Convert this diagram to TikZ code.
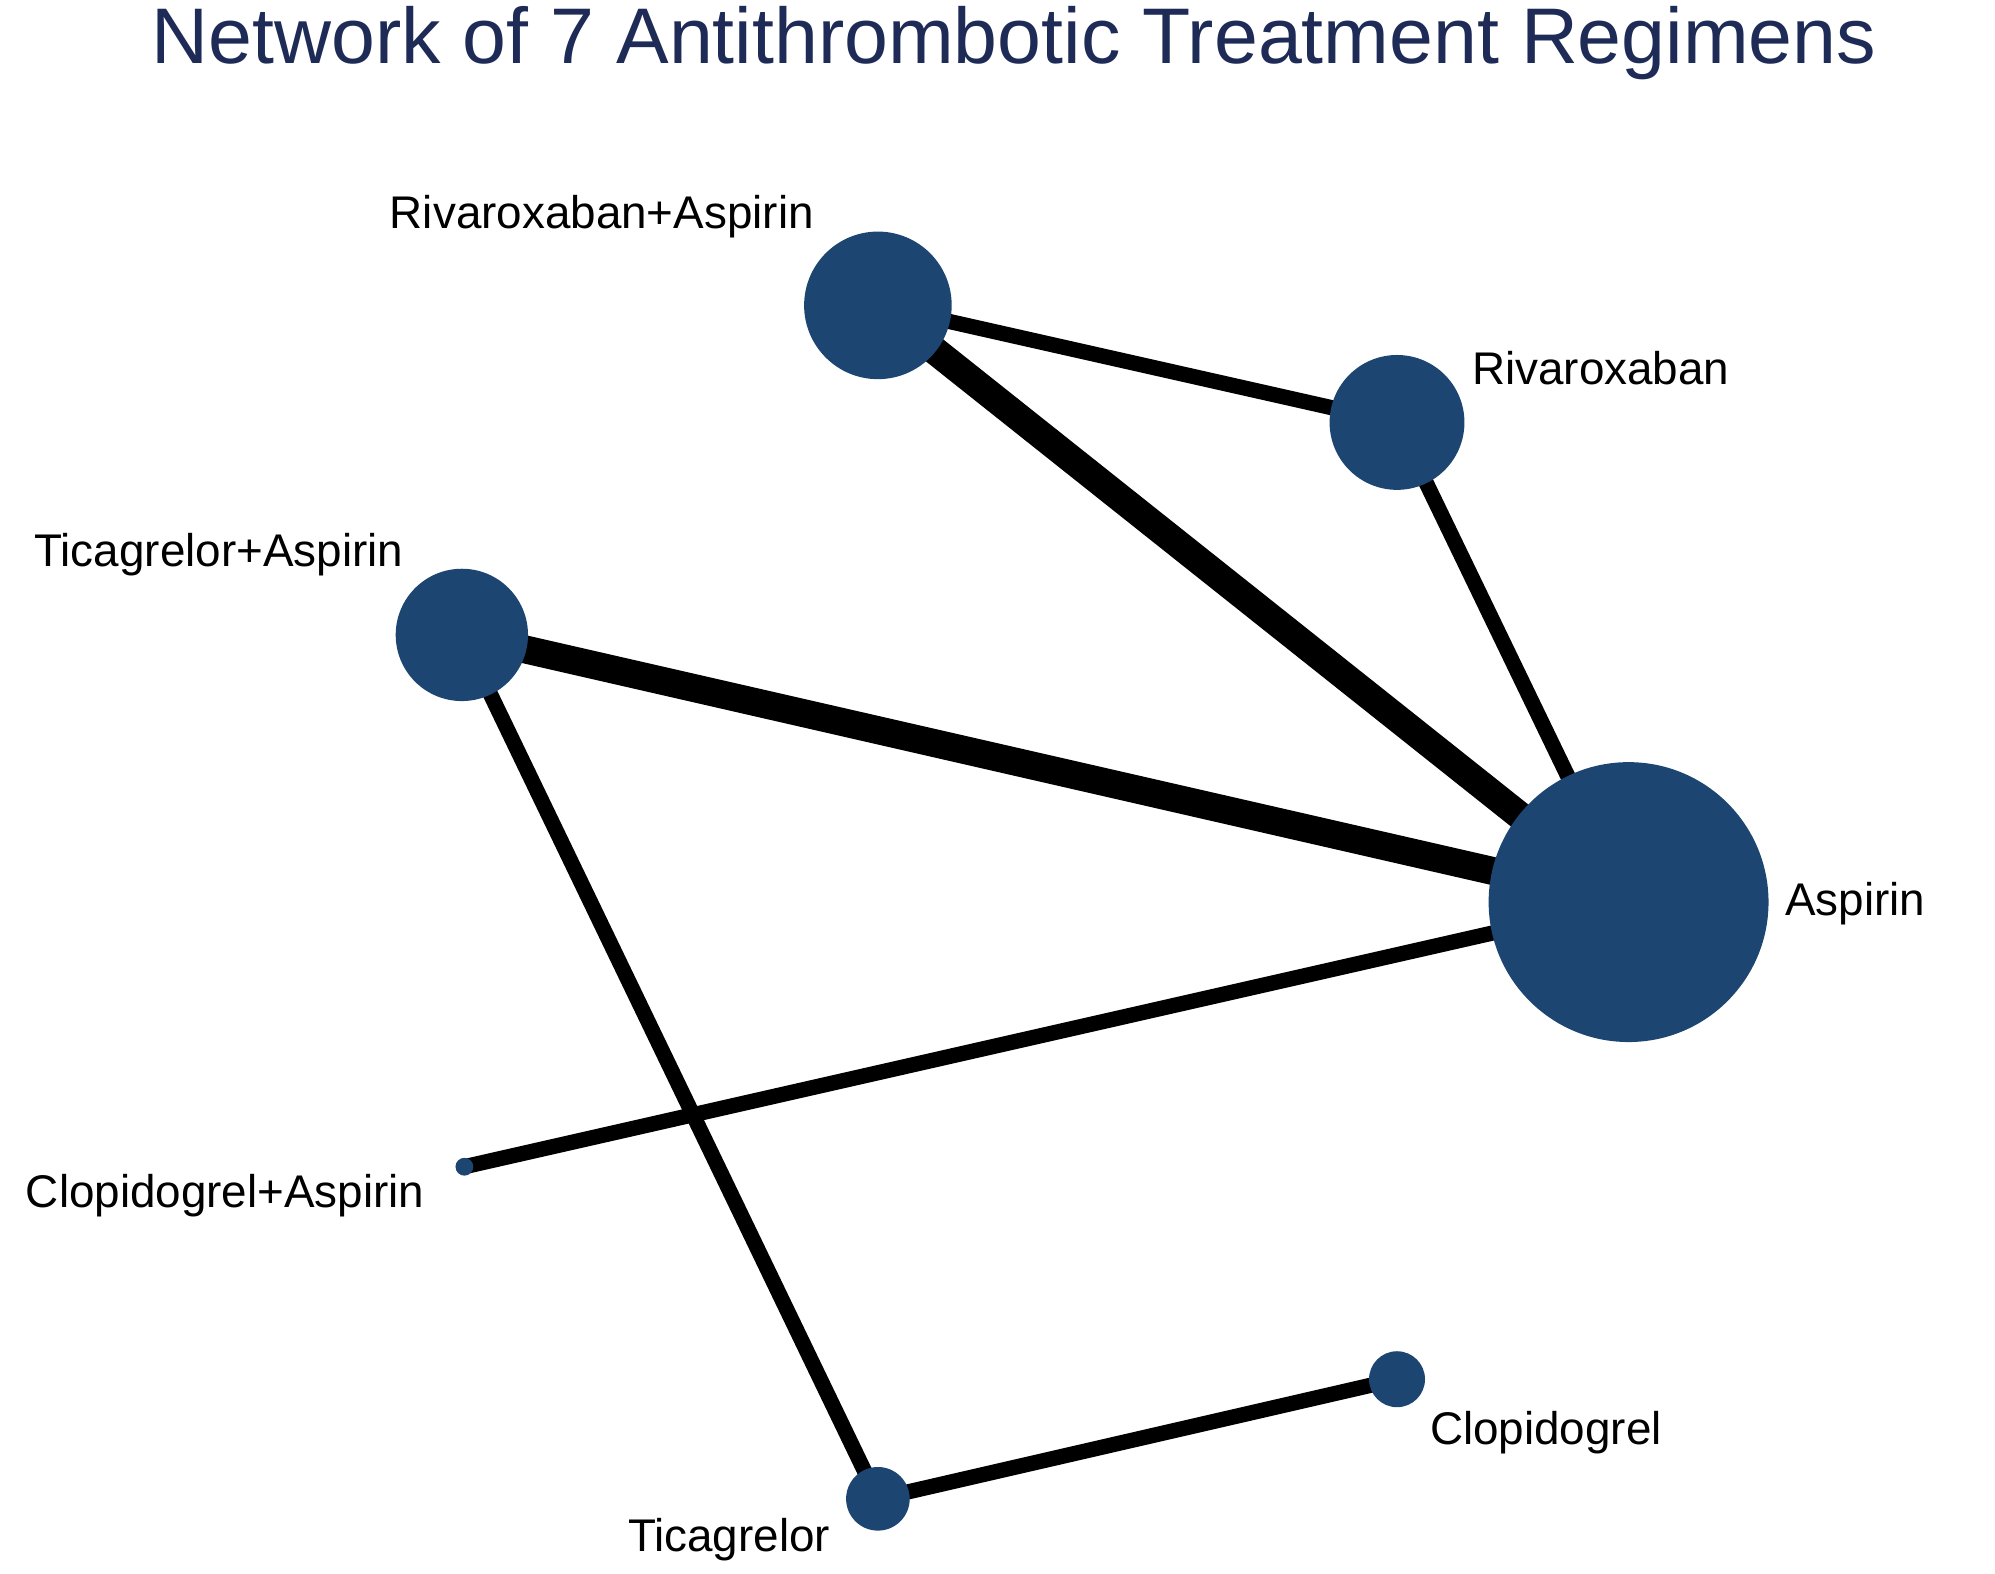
\documentclass[tikz,border=0pt]{standalone}
\usepackage{fontspec}
\setmainfont{Liberation Sans}
\definecolor{node}{HTML}{1C4671}
\definecolor{ttl}{HTML}{1F2B57}
\begin{document}
\begin{tikzpicture}[x=0.5pt,y=-0.5pt,
  trt/.style={circle,fill=node,inner sep=0pt,minimum size=#1},
  lab/.style={font=\fontsize{18}{20}\selectfont},
  thin/.style={line width=6pt},
  thick/.style={line width=11pt}]
\useasboundingbox (0,0) rectangle (1568,1237);
\node[text=ttl,font=\fontsize{31}{34}\selectfont] (title) at (797,34) {Network of 7 Antithrombotic Treatment Regimens};
\coordinate (ra) at (690,240);
\coordinate (r) at (1098,332);
\coordinate (ta) at (363,499);
\coordinate (a) at (1280,709);
\coordinate (ca) at (365,917);
\coordinate (t) at (690,1178);
\coordinate (c) at (1098,1084);
\draw[thick] (ra) -- (a);
\draw[thick] (ta) -- (a);
\draw[thin] (ra) -- (r);
\draw[thin] (r) -- (a);
\draw[thin] (a) -- (ca);
\draw[thin] (ta) -- (t);
\draw[thin] (t) -- (c);
\node[trt=58pt] (nra) at (ra) {};
\node[trt=53pt] (nr) at (r) {};
\node[trt=52pt] (nta) at (ta) {};
\node[trt=110pt] (na) at (a) {};
\node[trt=7pt] (nca) at (ca) {};
\node[trt=25pt] (nt) at (t) {};
\node[trt=22pt] (nc) at (c) {};
\node[lab] (lra) at (473,170) {Rivaroxaban+Aspirin};
\node[lab,anchor=west] (lr) at (1150,289) {Rivaroxaban};
\node[lab] (lta) at (172,436) {Ticagrelor+Aspirin};
\node[lab,anchor=west] (la) at (1396,710) {Aspirin};
\node[lab] (lca) at (177,940) {Clopidogrel+Aspirin};
\node[lab] (lt) at (573,1210) {Ticagrelor};
\node[lab] (lc) at (1215,1126) {Clopidogrel};
\end{tikzpicture}
\end{document}
